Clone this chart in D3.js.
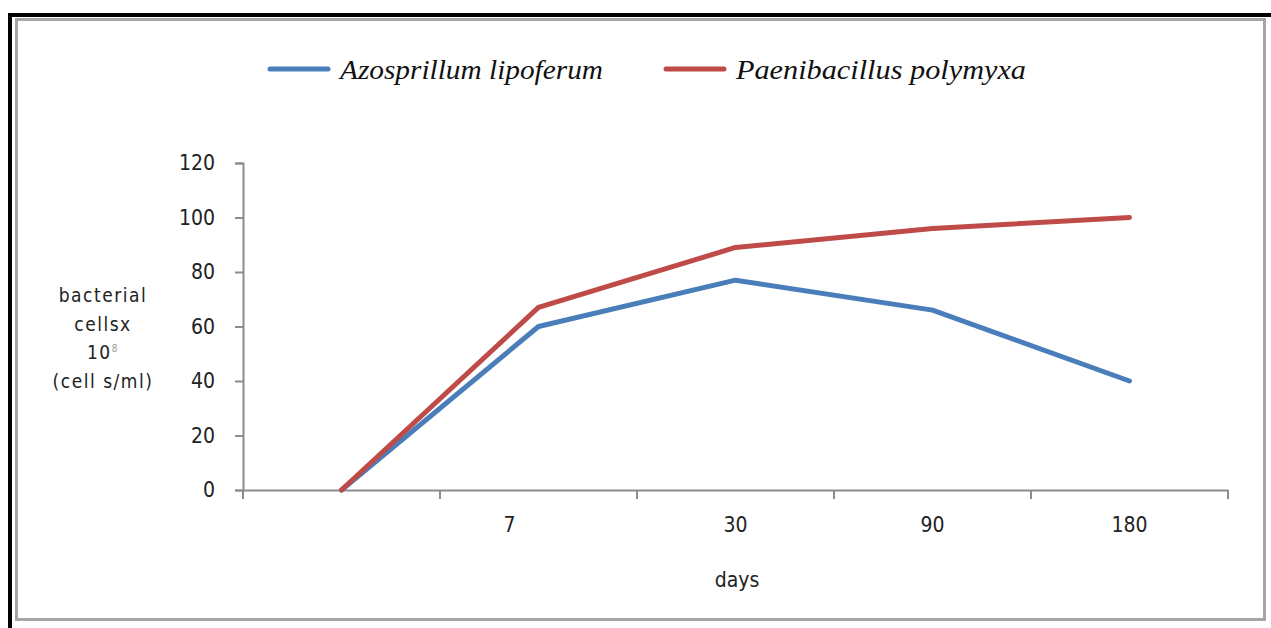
<!DOCTYPE html>
<html>
<head>
<meta charset="utf-8">
<script src="https://cdn.jsdelivr.net/npm/d3@7"></script>
<style>
  body { margin: 0; background: #fff; }
</style>
</head>
<body>
<div class="chart"></div>
<script>
// chart data
var days = ["0", "7", "30", "90", "180"];
var dayLabels = ["", "7", "30", "90", "180"];
var azospirillum = [0, 60, 77, 66, 40];
var paenibacillus = [0, 67, 89, 96, 100];
var yTicks = [0, 20, 40, 60, 80, 100, 120];

var svgWidth = 1271;
var svgHeight = 628;

var svg = d3.select(".chart")
  .append("svg")
  .attr("width", svgWidth)
  .attr("height", svgHeight);

// outer black frame (top + left only) and grey inner frame
svg.append("path")
  .attr("d", "M10,628 L10,15 L1271,15")
  .attr("fill", "none")
  .attr("stroke", "#000")
  .attr("stroke-width", 4);
svg.append("rect")
  .attr("x", 16.5).attr("y", 19.5)
  .attr("width", 1248).attr("height", 600)
  .attr("fill", "none")
  .attr("stroke", "#a6a6a6")
  .attr("stroke-width", 3);

var x = d3.scaleBand()
  .domain(days)
  .range([243, 1228])
  .padding(0);

var y = d3.scaleLinear()
  .domain([0, 120])
  .range([490, 163]);

var axisColor = "#8c8c8c";
var labelFont = "'DejaVu Sans Condensed', 'Noto Sans', sans-serif";

// y axis
var yAxis = svg.append("g")
  .attr("transform", "translate(243,0)")
  .call(d3.axisLeft(y).tickValues(yTicks).tickSize(8).tickPadding(20));
yAxis.select(".domain").attr("stroke", axisColor).attr("stroke-width", 2);
yAxis.selectAll(".tick line").attr("stroke", axisColor).attr("stroke-width", 2);
yAxis.selectAll(".tick text")
  .attr("fill", "#222")
  .style("font-family", labelFont)
  .style("font-size", "21px");

// x axis: ticks sit on the band edges, labels in the middle
var xAxis = svg.append("g")
  .attr("transform", "translate(0,490)")
  .call(d3.axisBottom(x).tickSize(0).tickPadding(27).tickFormat((d, i) => dayLabels[i]));
xAxis.select(".domain").attr("stroke", axisColor).attr("stroke-width", 2);
xAxis.selectAll(".tick text")
  .attr("fill", "#222")
  .attr("dx", d => d === "7" ? -29 : 0)
  .style("font-family", labelFont)
  .style("font-size", "21px");

var edges = days.map(d => x(d)).concat([x.range()[1]]);
svg.selectAll(".xedge")
  .data(edges)
  .enter()
  .append("line")
  .attr("class", "xedge")
  .attr("x1", d => d).attr("x2", d => d)
  .attr("y1", 490).attr("y2", 499)
  .attr("stroke", axisColor)
  .attr("stroke-width", 2);

// lines
var line = d3.line()
  .x((d, i) => x(days[i]) + x.bandwidth() / 2)
  .y(d => y(d));

var series = [
  { name: "Azosprillum lipoferum", values: azospirillum, color: "#4a7ebb", len: 263 },
  { name: "Paenibacillus polymyxa", values: paenibacillus, color: "#be4b48", len: 290 }
];

svg.selectAll(".series")
  .data(series)
  .enter()
  .append("path")
  .attr("class", "series")
  .attr("d", d => line(d.values))
  .attr("fill", "none")
  .attr("stroke", d => d.color)
  .attr("stroke-width", 5)
  .attr("stroke-linejoin", "round")
  .attr("stroke-linecap", "round");

// legend
var legendX = [270, 666];
var legend = svg.selectAll(".legend")
  .data(series)
  .enter()
  .append("g")
  .attr("class", "legend")
  .attr("transform", (d, i) => `translate(${legendX[i]},69)`);
legend.append("line")
  .attr("x1", 0).attr("x2", 58)
  .attr("stroke", d => d.color)
  .attr("stroke-width", 5)
  .attr("stroke-linecap", "round");
legend.append("text")
  .attr("x", 70)
  .attr("y", 10)
  .attr("textLength", d => d.len)
  .attr("lengthAdjust", "spacingAndGlyphs")
  .text(d => d.name)
  .style("font-family", "'Liberation Serif', serif")
  .style("font-style", "italic")
  .style("font-size", "28px")
  .attr("fill", "#111");

// y label
var yLabel = svg.append("text")
  .attr("text-anchor", "middle")
  .style("font-family", labelFont)
  .style("font-size", "19px")
  .style("letter-spacing", "1.5px")
  .attr("fill", "#222");
yLabel.append("tspan").attr("x", 103).attr("y", 302).text("bacterial");
yLabel.append("tspan").attr("x", 103).attr("y", 331).text("cellsx");
yLabel.append("tspan").attr("x", 103).attr("y", 359).text("10");
yLabel.append("tspan").attr("dy", -7).style("font-size", "10px").attr("fill", "#999").text("8");
yLabel.append("tspan").attr("x", 103).attr("y", 388).text("(cell s/ml)");

// x label
svg.append("text")
  .attr("x", 737)
  .attr("y", 587)
  .attr("text-anchor", "middle")
  .style("font-family", labelFont)
  .style("font-size", "21px")
  .attr("fill", "#222")
  .text("days");
</script>
</body>
</html>
